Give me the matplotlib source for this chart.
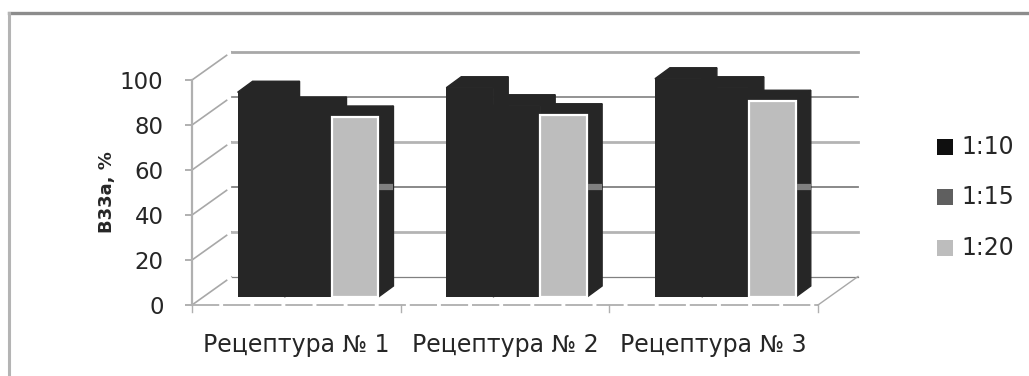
import numpy as np
import matplotlib.pyplot as plt
from matplotlib.lines import Line2D
from matplotlib.patches import Rectangle
from matplotlib.transforms import Affine2D, IdentityTransform

# values
recipes = ['Рецептура № 1', 'Рецептура № 2', 'Рецептура № 3']
ratios = ['1:10', '1:15', '1:20']
v_10 = [91, 93, 97]
v_15 = [84, 85, 93]
v_20 = [80, 81, 87]
yticks = [0, 20, 40, 60, 80, 100]

W, H = 1029, 376
plt.rcParams['font.family'] = ['DejaVu Sans']

fig = plt.figure(figsize=(W / 100, H / 100), dpi=100)

# only the top and left edges of the frame are in the picture
fig.add_artist(Line2D([9 / W, 1], [1 - 13 / H, 1 - 13 / H], color='#8c8c8c', lw=2.4))
fig.add_artist(Line2D([9 / W, 9 / W], [0, 1 - 13 / H], color='#b4b4b4', lw=2.2))

# front plane of the pseudo 3D box
ax = fig.add_axes([192 / W, 1 - 305 / H, (818 - 192) / W, (305 - 80) / H])
ax.set_xlim(0, 3)
ax.set_ylim(0, 100)
ax.patch.set_visible(False)
for s in ax.spines.values():
    s.set_visible(False)
ax.spines['left'].set_visible(True)
ax.spines['left'].set_color('#b0b0b0')
ax.spines['left'].set_linewidth(1.6)
ax.set_xticks(np.arange(len(recipes)) + 0.5)
ax.set_xticklabels(recipes, fontsize=17, color='#262626')
ax.set_yticks(yticks)
ax.tick_params(axis='x', length=0, pad=20)
ax.tick_params(axis='y', length=5, width=1.4, color='#b0b0b0', labelsize=16.5, labelcolor='#262626', pad=15.5)
ax.set_ylabel('В33а, %', fontsize=13, fontweight='bold', color='#262626', labelpad=3)

pixels = IdentityTransform()
wall = ax.transData + Affine2D().translate(40, 28.5)
plane = ax.transData + Affine2D().translate(11.7, 8)
depth = Affine2D().translate(15, 11)

# wall grid, the scan has washed some of them out
grid_styles = {100: ('#a8a8a8', 2.0), 80: ('#8a8a8a', 1.3), 60: ('#b4b4b4', 2.0),
               40: ('#808080', 1.3), 20: ('#b4b4b4', 2.0), 0: ('#808080', 0.9)}
for y in yticks:
    col, lw = grid_styles[y]
    ax.plot([0, 3], [y, y], color=col, lw=lw, transform=wall, clip_on=False, zorder=1)
    # side wall, solid near the axis and broken further back
    x0, y0 = ax.transData.transform((0, y))
    x1, y1 = wall.transform((0, y))
    ax.plot([x0, x1], [y0, y1], color='#a8a8a8', lw=1.2, ls=(0, (26, 3, 3, 2, 3, 2)), transform=pixels, clip_on=False, zorder=1)

# floor
ax.plot([0, 3], [0, 0], color='#b4b4b4', lw=1.4, ls=(0, (14, 2)), clip_on=False, zorder=1)
x0, y0 = ax.transData.transform((3, 0))
x1, y1 = wall.transform((3, 0))
ax.plot([x0, x1], [y0, y1], color='#a8a8a8', lw=1.0, transform=pixels, clip_on=False, zorder=1)
for xt in [0, 1, 2, 3]:
    ax.plot([xt, xt], [0, -3], color='#b0b0b0', lw=1.0, clip_on=False, zorder=1)

# bars
width = 0.225
series = [(v_10, -width, '#262626', '#262626'),
          (v_15, 0, '#262626', '#262626'),
          (v_20, width, '#bdbdbd', 'white')]
for vals, off, col, edge in series:
    for i, v in enumerate(vals):
        xl = i + 0.5 + off - width / 2
        xr = xl + width
        pts = plane.transform([(xl, 0), (xr, 0), (xr, v), (xl, v)])
        top = np.array([pts[3], pts[2], depth.transform(pts[2]), depth.transform(pts[3])])
        side = np.array([pts[1], depth.transform(pts[1]), depth.transform(pts[2]), pts[2]])
        ax.fill(top[:, 0], top[:, 1], color='#262626', transform=pixels, clip_on=False, zorder=3)
        ax.fill(side[:, 0], side[:, 1], color='#262626', transform=pixels, clip_on=False, zorder=3)
        ax.bar(i + 0.5 + off, v, width, color=col, edgecolor=edge, linewidth=1.6 if edge == 'white' else 0,
               transform=plane, clip_on=False, zorder=4)
        # the 40 grid line shows through the side face
        if edge == 'white':
            ym = wall.transform((0, 40))[1]
            ax.plot([pts[1][0] + 1, pts[1][0] + 15], [ym, ym], color='#808080', lw=4.5, solid_capstyle='butt',
                    transform=pixels, clip_on=False, zorder=5)

# legend
leg_cols = ['#0f0f0f', '#5f5f5f', '#bdbdbd']
leg_y = [147, 197, 248]
for name, c, yp in zip(ratios, leg_cols, leg_y):
    fig.add_artist(Rectangle((937 / W, 1 - (yp + 8) / H), 16 / W, 16 / H, transform=fig.transFigure, fc=c, ec='none'))
    fig.text(961 / W, 1 - yp / H, name, fontsize=17, color='#262626', va='center', ha='left')

fig.savefig('out.png', dpi=100)
